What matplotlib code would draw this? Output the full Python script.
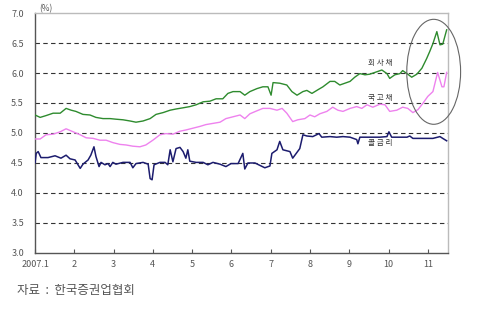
import numpy as np
import matplotlib
matplotlib.use("Agg")
import matplotlib.pyplot as plt
from matplotlib.patches import Ellipse

plt.rcParams['font.family'] = ['Noto Sans CJK KR', 'DejaVu Sans']

# 시점 (월 단위, 1 = 2007년 1월 초) 와 금리 (%)
t_corp = [1.00, 1.13, 1.28, 1.46, 1.64, 1.79, 1.92, 2.04, 2.22, 2.40, 2.55, 2.73, 2.91,
          3.06, 3.24, 3.42, 3.57, 3.75, 3.93, 4.08, 4.26, 4.44, 4.59, 4.77, 4.94, 5.10,
          5.28, 5.45, 5.61, 5.78, 5.91, 6.04, 6.22, 6.34, 6.47, 6.65, 6.80, 6.93, 7.01,
          7.06, 7.23, 7.41, 7.54, 7.67, 7.82, 7.92, 8.05, 8.20, 8.33, 8.51, 8.63, 8.76,
          8.89, 9.02, 9.14, 9.27, 9.40, 9.52, 9.70, 9.83, 9.96, 10.03, 10.16, 10.29,
          10.36, 10.47, 10.59, 10.72, 10.85, 10.97, 11.05, 11.13, 11.23, 11.31, 11.38,
          11.48]
corp = [5.30, 5.26, 5.29, 5.33, 5.33, 5.41, 5.38, 5.36, 5.31, 5.30, 5.26, 5.24, 5.24,
        5.23, 5.22, 5.20, 5.18, 5.20, 5.24, 5.31, 5.34, 5.38, 5.40, 5.42, 5.44, 5.47,
        5.52, 5.53, 5.57, 5.57, 5.66, 5.69, 5.69, 5.63, 5.69, 5.74, 5.77, 5.77, 5.63,
        5.84, 5.83, 5.80, 5.69, 5.63, 5.69, 5.71, 5.66, 5.72, 5.77, 5.86, 5.86, 5.80,
        5.83, 5.86, 5.93, 5.99, 5.97, 5.98, 6.02, 6.05, 5.99, 5.91, 5.97, 5.99,
        6.04, 5.99, 5.93, 5.98, 6.08, 6.24, 6.36, 6.49, 6.69, 6.47, 6.48,
        6.72]

t_gov = [1.00, 1.13, 1.28, 1.46, 1.64, 1.79, 1.97, 2.15, 2.30, 2.48, 2.65, 2.81, 2.98,
         3.16, 3.32, 3.49, 3.67, 3.82, 4.00, 4.18, 4.33, 4.51, 4.69, 4.84, 5.02, 5.20,
         5.35, 5.53, 5.71, 5.86, 6.04, 6.22, 6.34, 6.47, 6.65, 6.80, 6.98, 7.16, 7.29,
         7.41, 7.56, 7.69, 7.87, 8.00, 8.12, 8.25, 8.43, 8.58, 8.71, 8.84, 9.02, 9.19,
         9.32, 9.45, 9.60, 9.78, 9.91, 10.03, 10.21, 10.36, 10.49, 10.62, 10.75, 10.87,
         11.00, 11.13, 11.25, 11.36, 11.41, 11.48]
gov = [4.90, 4.90, 4.97, 4.98, 5.02, 5.07, 5.02, 4.97, 4.92, 4.91, 4.88, 4.88, 4.84,
       4.81, 4.80, 4.78, 4.77, 4.80, 4.88, 4.97, 4.99, 4.98, 5.03, 5.05, 5.08, 5.11,
       5.14, 5.16, 5.18, 5.24, 5.27, 5.30, 5.24, 5.32, 5.37, 5.41, 5.41, 5.38, 5.41,
       5.33, 5.19, 5.22, 5.24, 5.30, 5.27, 5.32, 5.36, 5.43, 5.38, 5.36, 5.41, 5.44,
       5.41, 5.47, 5.43, 5.48, 5.47, 5.36, 5.38, 5.43, 5.41, 5.34, 5.39, 5.49,
       5.61, 5.69, 6.01, 5.77, 5.77, 6.01]

t_call = [1.00, 1.03, 1.08, 1.15, 1.33, 1.51, 1.66, 1.79, 1.89, 2.02, 2.15, 2.22, 2.35,
          2.42, 2.50, 2.55, 2.63, 2.68, 2.78, 2.86, 2.91, 2.98, 3.06, 3.24, 3.42, 3.49,
          3.57, 3.75, 3.88, 3.93, 3.98, 4.03, 4.18, 4.31, 4.38, 4.44, 4.51, 4.59, 4.69,
          4.77, 4.84, 4.89, 4.94, 5.10, 5.28, 5.40, 5.53, 5.71, 5.86, 5.99, 6.17, 6.29,
          6.34, 6.42, 6.60, 6.85, 6.98, 7.03, 7.16, 7.23, 7.31, 7.49, 7.56, 7.74, 7.82,
          7.92, 8.07, 8.23, 8.30, 8.51, 8.68, 8.84, 9.02, 9.19, 9.22, 9.27, 9.45, 9.60,
          9.78, 9.96, 10.01, 10.08, 10.29, 10.47, 10.54, 10.62, 10.87, 11.13, 11.31,
          11.38, 11.48]
call = [4.50, 4.66, 4.69, 4.59, 4.59, 4.62, 4.58, 4.63, 4.57, 4.55, 4.41, 4.48, 4.55,
        4.63, 4.77, 4.61, 4.44, 4.51, 4.47, 4.49, 4.44, 4.51, 4.48, 4.51, 4.51, 4.42,
        4.49, 4.51, 4.48, 4.24, 4.22, 4.47, 4.51, 4.51, 4.47, 4.72, 4.52, 4.74, 4.76,
        4.69, 4.58, 4.72, 4.53, 4.51, 4.51, 4.47, 4.51, 4.48, 4.44, 4.49, 4.49, 4.66,
        4.40, 4.50, 4.50, 4.42, 4.45, 4.66, 4.72, 4.86, 4.72, 4.69, 4.58, 4.74, 4.97,
        4.95, 4.94, 4.99, 4.93, 4.94, 4.93, 4.94, 4.93, 4.89, 4.82, 4.93, 4.93, 4.93,
        4.93, 4.94, 5.02, 4.93, 4.93, 4.93, 4.95, 4.91, 4.91, 4.91, 4.94,
        4.91, 4.87]

month_ticks = list(range(1, 12))
month_labels = ['2007.1'] + [str(m) for m in range(2, 12)]
y_ticks = [3.0, 3.5, 4.0, 4.5, 5.0, 5.5, 6.0, 6.5, 7.0]

fig = plt.figure(figsize=(4.8, 3.1), dpi=100)
ax = fig.add_axes([0.073, 0.184, 0.86, 0.774])

for y in y_ticks[1:-1]:
    ax.axhline(y, color='#333333', lw=0.8, ls=(0, (4, 3)), zorder=1)

ax.plot(t_corp, corp, color='#2e8b2e', lw=1.0, zorder=3)
ax.plot(t_gov, gov, color='#ee82ee', lw=1.0, zorder=3)
ax.plot(t_call, call, color='#1c1c6e', lw=1.1, zorder=3)

ax.set_xlim(1, 11.51)
ax.set_ylim(3.0, 7.0)
ax.set_xticks(month_ticks)
ax.set_xticklabels(month_labels)
ax.set_yticks(y_ticks)
ax.set_yticklabels([f'{v:.1f}' for v in y_ticks])
ax.tick_params(axis='x', direction='in', length=3, color='#555555',
               labelsize=6.5, labelcolor='#555555', pad=5)
ax.tick_params(axis='y', direction='out', length=0, labelsize=6.5,
               labelcolor='#555555', pad=8)

for s in ['left', 'bottom']:
    ax.spines[s].set_color('#555555')
    ax.spines[s].set_linewidth(1.0)
for s in ['top', 'right']:
    ax.spines[s].set_color('#bbbbbb')
    ax.spines[s].set_linewidth(1.0)

ax.text(1.1, 7.0, '(%)', fontsize=6, color='#555555', ha='left', va='bottom')

ax.text(9.78, 6.17, '회 사 채', fontsize=5.5, color='#333333', ha='center', va='center')
ax.text(9.78, 5.58, '국 고 채', fontsize=5.5, color='#333333', ha='center', va='center')
ax.text(9.78, 4.83, '콜 금 리', fontsize=5.5, color='#333333', ha='center', va='center')

ell = Ellipse((11.15, 6.02), 1.37, 1.75, fill=False, edgecolor='#666666',
              lw=0.8, clip_on=False, zorder=4)
ax.add_patch(ell)

fig.text(0.035, 0.062, '자료  :  한국증권업협회', fontsize=9, color='#555555',
         ha='left', va='center')

fig.savefig('out.png', dpi=100)
